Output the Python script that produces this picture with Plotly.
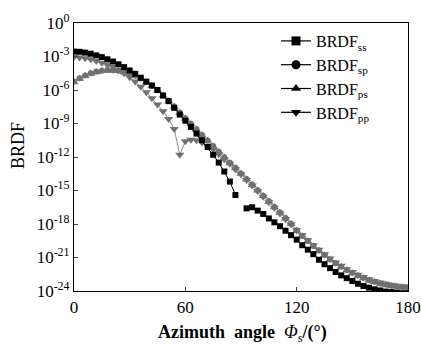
import plotly.graph_objects as go

angle = list(range(0, 181, 3))

# log10 values (None = gap)
ss_exp = [-2.56, -2.58, -2.65, -2.75, -2.9, -3.05, -3.25, -3.45, -3.7, -3.95,
          -4.25, -4.55, -4.9, -5.25, -5.6, -6.0, -6.5, -7.0, -7.6, -8.2,
          -8.75, -9.3, -9.9, -10.5, -11.1, -11.8, -12.5, -13.3, -14.2, -15.4,
          None, -16.6, -16.5, -16.8, -17.1, -17.5, -17.85, -18.2, -18.6, -19.0,
          -19.4, -19.9, -20.3, -20.7, -21.2, -21.6, -21.95, -22.3, -22.6, -22.85,
          -23.1, -23.35, -23.55, -23.7, -23.85, -23.95, -24.05, -24.1, -24.15, -24.2,
          -24.2]
ps_exp = [-5.3, -5.0, -4.75, -4.55, -4.4, -4.3, -4.25, -4.25, -4.3, -4.4,
          -4.55, -4.75, -5.0, -5.3, -5.65, -6.05, -6.5, -7.0, -7.5, -8.05,
          -8.55, -9.05, -9.55, -10.05, -10.55, -11.05, -11.55, -12.05, -12.55, -13.0,
          -13.5, -14.0, -14.5, -15.0, -15.5, -16.0, -16.5, -17.0, -17.5, -18.0,
          -18.6, -19.1, -19.55, -20.0, -20.4, -20.8, -21.2, -21.55, -21.85, -22.15,
          -22.4, -22.65, -22.85, -23.05, -23.2, -23.35, -23.45, -23.55, -23.62, -23.68,
          -23.72]
sp_exp = [-5.25, -4.95, -4.7, -4.5, -4.35, -4.27, -4.22, -4.23, -4.28, -4.38,
          -4.53, -4.73, -4.98, -5.28, -5.62, -6.02, -6.47, -6.97, -7.47, -8.02,
          -8.52, -9.02, -9.52, -10.02, -10.52, -11.02, -11.52, -12.02, -12.52, -12.97,
          -13.47, -13.97, -14.47, -14.97, -15.47, -15.97, -16.47, -16.97, -17.47, -17.97,
          -18.57, -19.07, -19.52, -19.97, -20.37, -20.77, -21.17, -21.52, -21.82, -22.12,
          -22.37, -22.62, -22.82, -23.02, -23.17, -23.32, -23.42, -23.52, -23.6, -23.66,
          -23.7]
pp_exp = [-3.05, -3.08, -3.15, -3.25, -3.4, -3.55, -3.75, -3.95, -4.2, -4.5,
          -4.85, -5.25, -5.7, -6.2, -6.75, -7.3, -7.9, -8.6, -9.5, -11.8,
          -10.6, -10.45, -10.5, -10.7, -11.0, -11.3, -11.75, -12.2, -12.6, -13.1,
          -13.55, -14.05, -14.55, -15.05, -15.55, -16.05, -16.55, -17.05, -17.55, -18.05,
          -18.55, -19.0, -19.45, -19.9, -20.3, -20.7, -21.1, -21.45, -21.75, -22.05,
          -22.3, -22.55, -22.75, -22.95, -23.1, -23.25, -23.35, -23.45, -23.52, -23.58,
          -23.62]

ytick_exp = [0, -3, -6, -9, -12, -15, -18, -21, -24]
xtick_vals = [0, 60, 120, 180]
names = ["ss", "sp", "ps", "pp"]


def to_val(lst):
    return [None if v is None else 10 ** v for v in lst]


FONT = "Liberation Serif"
GRAY = "#707070"
LGRAY = "#8a8a8a"

fig = go.Figure()

series = {
    "sp": (sp_exp, "circle", 6),
    "ps": (ps_exp, "triangle-up", 8),
    "pp": (pp_exp, "triangle-down", 8),
}
for key in ["sp", "ps", "pp"]:
    ex, sym, sz = series[key]
    fig.add_trace(go.Scatter(
        x=angle, y=to_val(ex), mode="lines+markers", showlegend=False,
        line=dict(color=LGRAY, width=1),
        marker=dict(symbol=sym, size=sz, color=GRAY, line=dict(width=0)),
        connectgaps=False))

fig.add_trace(go.Scatter(
    x=angle, y=to_val(ss_exp), mode="lines+markers", showlegend=False,
    line=dict(color="#000000", width=1),
    marker=dict(symbol="square", size=6, color="#000000", line=dict(width=0)),
    connectgaps=False))

# legend entries (black symbols)
legend_syms = {"ss": "square", "sp": "circle", "ps": "triangle-up", "pp": "triangle-down"}
for i, n in enumerate(names):
    fig.add_trace(go.Scatter(
        x=[None], y=[None], mode="lines+markers",
        name="BRDF<sub>" + n + "</sub>",
        line=dict(color="#000000", width=1.2),
        marker=dict(symbol=legend_syms[n], size=9, color="#000000"),
        legendrank=i + 1))

W, H = 422, 344
ML, MT = 74, 23
MR = W - 408
MB = H - 291
pw, ph = W - ML - MR, H - MT - MB


def px_x(x):
    return (x - ML) / pw


def px_y(y):
    return 1 - (y - MT) / ph


fig.update_layout(
    width=W, height=H,
    margin=dict(l=ML, r=MR, t=MT, b=MB, autoexpand=False),
    paper_bgcolor="white", plot_bgcolor="white",
    font=dict(family=FONT, color="#000000", size=16),
    legend=dict(x=px_x(276), y=px_y(24), xanchor="left", yanchor="top",
                bgcolor="rgba(0,0,0,0)", font=dict(family=FONT, size=16),
                tracegroupgap=0, itemwidth=30),
    xaxis=dict(range=[0, 180], tickvals=xtick_vals, ticks="inside", ticklen=4,
               automargin=False, ticklabeloverflow="allow",
               showline=True, linecolor="#000000", linewidth=1.2, mirror=True,
               showgrid=False, zeroline=False, tickfont=dict(family=FONT, size=17)),
    yaxis=dict(type="log", range=[-24, 0], automargin=False,
               tickvals=[10 ** e for e in ytick_exp],
               ticktext=["10<sup>%d</sup>" % e for e in ytick_exp],
               ticks="inside", ticklen=4,
               showline=True, linecolor="#000000", linewidth=1.2, mirror=True,
               showgrid=False, zeroline=False, tickfont=dict(family=FONT, size=17)),
    annotations=[
        dict(text="<b>Azimuth  angle  </b><i>Φ</i><sub>s</sub><b>/(°)</b>",
             x=px_x(242), y=px_y(333), xref="paper", yref="paper",
             xanchor="center", yanchor="middle", showarrow=False,
             font=dict(family=FONT, size=18)),
        dict(text="BRDF", textangle=-90, x=px_x(18), y=px_y(146),
             xref="paper", yref="paper", xanchor="center", yanchor="middle",
             showarrow=False, font=dict(family=FONT, size=18)),
    ],
)

fig.write_html(
    "out.html",
    config={"displayModeBar": False},
    post_script="document.body.style.margin='0';document.body.style.overflow='hidden';",
)
